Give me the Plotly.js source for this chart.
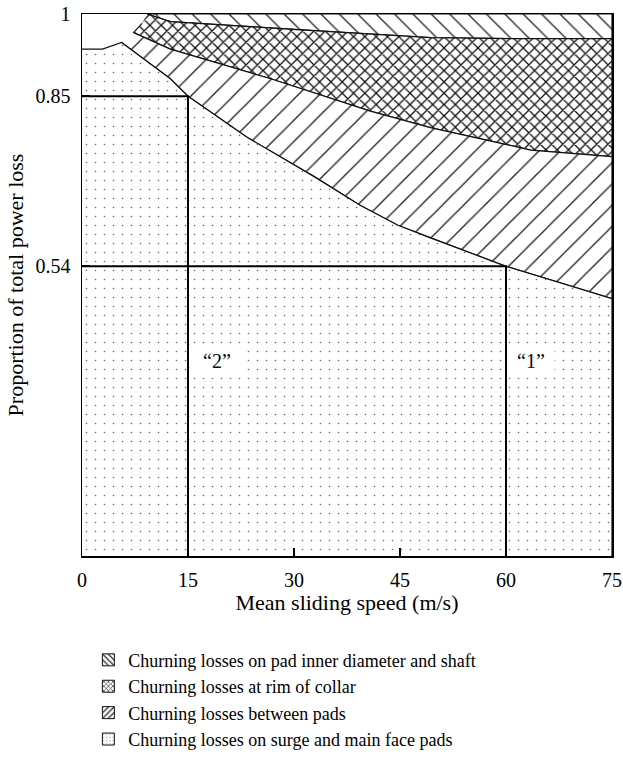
<!DOCTYPE html>
<html>
<head>
<meta charset="utf-8">
<script src="https://cdn.plot.ly/plotly-3.0.1.min.js"></script>
<style>html,body{margin:0;padding:0;background:#fff;}#chart{width:623px;height:769px;}</style>
</head>
<body>
<div id="chart"></div>
<script>
// ---- data ----
const speedTicks = [0, 15, 30, 45, 60, 75];
const proportionTicks = [0.54, 0.85, 1];
const proportionTickLabels = ['0.54', '0.85', '1'];

const seriesNames = [
  'Churning losses on pad inner diameter and shaft',
  'Churning losses at rim of collar',
  'Churning losses between pads',
  'Churning losses on surge and main face pads'
];

// upper edge of "surge and main face pads"
const faceTopX = [0, 2.9, 5.6, 12.5, 15, 23.4, 32.8, 39.4, 44.7, 49.3, 60, 75];
const faceTopY = [0.936, 0.936, 0.948, 0.882, 0.85, 0.775, 0.704, 0.651, 0.615, 0.592, 0.54, 0.481];

// upper edge of "between pads" (= lower edge of collar)
const collarBottomX = [7.3, 12.5, 26.7, 40.8, 49.3, 63.5, 75];
const collarBottomY = [0.966, 0.936, 0.882, 0.823, 0.793, 0.752, 0.740];

// upper edge of collar (= lower edge of inner diameter/shaft)
const collarTopX = [9.2, 12.5, 30.9, 49.3, 62.1, 75];
const collarTopY = [1.0, 0.986, 0.971, 0.957, 0.955, 0.955];

// edge of the unshaded corner at low speed
const cornerEdgeX = [5.6, 7.3, 8.5, 9.2];
const cornerEdgeY = [0.948, 0.966, 0.983, 1.0];

// marked operating cases
const caseSpeeds = [15, 60];
const caseProportions = [0.85, 0.54];
const caseLabels = ['\u201c2\u201d', '\u201c1\u201d'];

// ---- build ----
const Y_MIN = 0.012, Y_MAX = 1, X_MIN = 0, X_MAX = 75;
const FONT = 'Liberation Serif, Times New Roman, serif';
const rev = a => a.slice().reverse();

const faceRight = faceTopX.map((x, i) => [x, faceTopY[i]]).filter(p => p[0] >= cornerEdgeX[0]);

const innerX = [collarTopX[0], X_MAX].concat(rev(collarTopX));
const innerY = [Y_MAX, Y_MAX].concat(rev(collarTopY));

const collarX = collarTopX.concat(rev(collarBottomX), cornerEdgeX.slice(2, 3));
const collarY = collarTopY.concat(rev(collarBottomY), cornerEdgeY.slice(2, 3));

const betweenX = collarBottomX.concat(rev(faceRight.map(p => p[0])));
const betweenY = collarBottomY.concat(rev(faceRight.map(p => p[1])));

const faceX = faceTopX.concat([X_MAX, X_MIN]);
const faceY = faceTopY.concat([0, 0]);

const patterns = [
  {shape: '\\', size: 13, solidity: 0.1, fgcolor: '#222'},
  {shape: 'x', size: 8, solidity: 0.3, fgcolor: '#111'},
  {shape: '/', size: 15, solidity: 0.09, fgcolor: '#222'},
  {shape: '.', size: 9, solidity: 0.025, fgcolor: '#666'}
];
const legendPatterns = [
  {shape: '\\', size: 5, solidity: 0.3, fgcolor: '#222'},
  {shape: 'x', size: 4, solidity: 0.35, fgcolor: '#222'},
  {shape: '/', size: 5, solidity: 0.3, fgcolor: '#222'},
  {shape: '.', size: 4, solidity: 0.08, fgcolor: '#666'}
];
const polys = [[innerX, innerY], [collarX, collarY], [betweenX, betweenY], [faceX, faceY]];

const traces = [];
polys.forEach((p, i) => {
  traces.push({
    type: 'scatter', mode: 'lines', x: p[0], y: p[1], fill: 'toself',
    fillcolor: 'rgba(0,0,0,0)',
    fillpattern: Object.assign({bgcolor: '#fff', fillmode: 'replace'}, patterns[i]),
    line: {color: '#111', width: 1.2}, showlegend: false, hoverinfo: 'skip'
  });
});
// legend swatches
seriesNames.forEach((n, i) => {
  traces.push({
    type: 'bar', x: [null], y: [null], name: n,
    marker: {color: '#fff', line: {color: '#111', width: 1},
      pattern: Object.assign({bgcolor: '#fff', fillmode: 'replace'}, legendPatterns[i])},
    showlegend: true, hoverinfo: 'skip'
  });
});
// case lines
caseSpeeds.forEach((s, i) => {
  traces.push({
    type: 'scatter', mode: 'lines',
    x: [X_MIN, s, s], y: [caseProportions[i], caseProportions[i], Y_MIN],
    line: {color: '#000', width: 2}, showlegend: false, hoverinfo: 'skip'
  });
});

const annotations = caseLabels.map((t, i) => ({
  x: caseSpeeds[i] + [4.1, 3.5][i], y: 0.367, xref: 'x', yref: 'y',
  text: t, showarrow: false, bgcolor: '#fff', width: [48, 44][i], height: 30,
  font: {family: FONT, size: 20, color: '#000'}
}));

const layout = {
  width: 623, height: 769,
  margin: {l: 82, r: 11, t: 14, b: 200},
  paper_bgcolor: '#fff', plot_bgcolor: '#fff',
  font: {family: FONT, size: 20, color: '#000'},
  showlegend: true,
  legend: {x: 0.012, y: -0.158, xanchor: 'left', yanchor: 'top', orientation: 'v',
    font: {family: FONT, size: 18, color: '#000'}, tracegroupgap: 0, itemwidth: 30,
    bgcolor: 'rgba(0,0,0,0)'},
  xaxis: {range: [X_MIN, X_MAX], tickvals: speedTicks, ticktext: speedTicks.map(String),
    ticks: 'inside', ticklen: 8, tickwidth: 2, tickcolor: '#000', ticklabelstandoff: 5,
    tickfont: {family: FONT, size: 20},
    showline: true, linecolor: '#000', linewidth: 1.5, mirror: true, showgrid: false, zeroline: false,
    title: {text: 'Mean sliding speed (m/s)', font: {family: FONT, size: 22}, standoff: 5},
    fixedrange: true},
  yaxis: {range: [Y_MIN, Y_MAX], tickvals: proportionTicks, ticktext: proportionTickLabels,
    ticks: 'inside', ticklen: 8, tickwidth: 2, tickcolor: '#000', ticklabelstandoff: 6,
    tickfont: {family: FONT, size: 20},
    showline: true, linecolor: '#000', linewidth: 1.5, mirror: true, showgrid: false, zeroline: false,
    title: {text: 'Proportion of total power loss', font: {family: FONT, size: 22}, standoff: 6},
    fixedrange: true},
  annotations: annotations
};

Plotly.newPlot('chart', traces, layout, {staticPlot: true, displayModeBar: false});
</script>
</body>
</html>
